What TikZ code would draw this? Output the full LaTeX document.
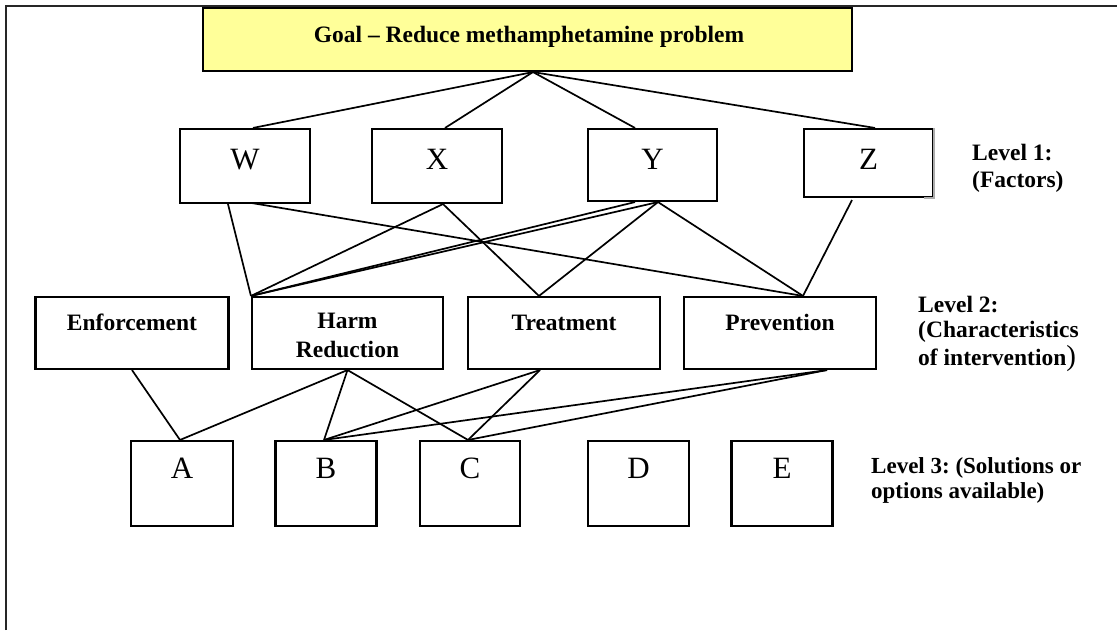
\documentclass[tikz,border=0pt]{standalone}
\usepackage{fontspec}
\setmainfont{Liberation Serif}
\usetikzlibrary{calc}
\definecolor{goalyellow}{HTML}{FFFF99}
\frenchspacing
\begin{document}
\begin{tikzpicture}[x=1pt,y=-1pt,
  box/.style={draw=black, line width=2.1pt, inner sep=0pt, rectangle},
  link/.style={draw=black, line width=1.7pt},
  big/.style={font=\fontsize{31}{31}\selectfont, inner sep=0pt, anchor=base},
  lab/.style={font=\fontsize{23.5}{27}\selectfont\bfseries, inner sep=0pt},
]
\useasboundingbox (0,0) rectangle (1117,630);
% frame
\draw[black!85, line width=2.2pt] (6,630) -- (6,6) -- (1117,6);

% goal
\node[box, fill=goalyellow, minimum width=649pt, minimum height=63pt] (G) at (527.5,39.5) {};
\node[lab, anchor=base] (Gt) at (529,42) {Goal – Reduce methamphetamine problem};

% level 1
\node[box, minimum width=130pt, minimum height=74pt] (W) at (245,166) {};
\node[box, minimum width=130pt, minimum height=74pt] (X) at (437,166) {};
\node[box, minimum width=129pt, minimum height=72pt] (Y) at (652.5,165) {};
\node[box, minimum width=129pt, minimum height=68pt] (Z) at (868.5,163) {};
\draw[gray!65, line width=2.1pt] (Z.north east) -- (Z.south east) -- ($(Z.south east)+(-10,0)$);
\node[big] (Wt) at (245,169) {W};
\node[big] (Xt) at (437,169) {X};
\node[big] (Yt) at (652.5,169) {Y};
\node[big] (Zt) at (868.5,169) {Z};
\node[lab, anchor=base west] (L1) at (972,160) {\begin{tabular}[t]{@{}l@{}}Level 1:\\(Factors)\end{tabular}};

% level 2
\node[box, minimum width=193pt, minimum height=72pt] (E) at (132,333) {};
\node[box, minimum width=191pt, minimum height=72pt] (H) at (347.5,333) {};
\node[box, minimum width=192pt, minimum height=72pt] (T) at (564,333) {};
\node[box, minimum width=192pt, minimum height=72pt] (P) at (780,333) {};
\node[lab, anchor=base] (Et) at (132,330) {Enforcement};
\node[lab, anchor=base, font=\fontsize{23.5}{29}\selectfont\bfseries] (Ht) at (347.5,328) {\begin{tabular}[t]{@{}c@{}}Harm\\Reduction\end{tabular}};
\node[lab, anchor=base] (Tt) at (564,330) {Treatment};
\node[lab, anchor=base] (Pt) at (780,330) {Prevention};
\node[lab, anchor=base west, font=\fontsize{23.5}{25.5}\selectfont\bfseries] (L2) at (918,312) {\begin{tabular}[t]{@{}l@{}}Level 2:\\(Characteristics\\of intervention{\mdseries\fontsize{29}{29}\selectfont)}\end{tabular}};

% level 3
\node[box, minimum width=102pt, minimum height=85pt] (A) at (182,483.5) {};
\node[box, minimum width=101pt, minimum height=85pt] (B) at (326,483.5) {};
\node[box, minimum width=100pt, minimum height=85pt] (C) at (470,483.5) {};
\node[box, minimum width=101pt, minimum height=85pt] (D) at (638.5,483.5) {};
\node[box, minimum width=101pt, minimum height=85pt] (Ee) at (782,483.5) {};
\node[big] (At) at (182,478) {A};
\node[big] (Bt) at (326,478) {B};
\node[big] (Ct) at (470,478) {C};
\node[big] (Dt) at (638.5,478) {D};
\node[big] (Eet) at (782,478) {E};
\node[lab, anchor=base west, font=\fontsize{23}{25}\selectfont\bfseries] (L3) at (871,473) {\begin{tabular}[t]{@{}l@{}}Level 3: (Solutions or\\options available)\end{tabular}};

% connection points
\coordinate (g) at ($(G.south)+(5.5,0)$);
\coordinate (wn) at ($(W.north)+(8,0)$);
\coordinate (xn) at ($(X.north)+(8,0)$);
\coordinate (yn) at ($(Y.north)+(-17.5,0)$);
\coordinate (zn) at ($(Z.north)+(6.5,0)$);
\coordinate (ws1) at ($(W.south)+(-17,0)$);
\coordinate (ws2) at ($(W.south)+(7,-1)$);
\coordinate (xs) at ($(X.south)+(6,0)$);
\coordinate (ys1) at ($(Y.south)+(-17.5,0)$);
\coordinate (ys2) at ($(Y.south)+(5.5,0)$);
\coordinate (zs) at ($(Z.south)+(-16.5,2)$);
\coordinate (hn) at (H.north west);
\coordinate (tn) at ($(T.north)+(-25,0)$);
\coordinate (pn) at ($(P.north)+(23,0)$);
\coordinate (hs) at (H.south);
\coordinate (ts) at ($(T.south)+(-24,0)$);
\coordinate (ps) at ($(P.south)+(47,0)$);
\coordinate (an) at ($(A.north)+(-2,0)$);
\coordinate (bn) at ($(B.north)+(-2,0)$);
\coordinate (cn) at ($(C.north)+(-2,0)$);

% goal to level 1
\draw[link] (g) -- (wn);
\draw[link] (g) -- (xn);
\draw[link] (g) -- (yn);
\draw[link] (g) -- (zn);

% level 1 to level 2
\draw[link] (ws1) -- (hn);
\draw[link] (ws2) -- (pn);
\draw[link] (xs) -- (hn);
\draw[link] (xs) -- (tn);
\draw[link] (ys1) -- (hn);
\draw[link] (ys2) -- (hn);
\draw[link] (ys2) -- (tn);
\draw[link] (ys2) -- (pn);
\draw[link] (zs) -- (pn);

% level 2 to level 3
\draw[link] (E.south) -- (an);
\draw[link] (hs) -- (an);
\draw[link] (hs) -- (bn);
\draw[link] (hs) -- (cn);
\draw[link] (ts) -- (bn);
\draw[link] (ts) -- (cn);
\draw[link] (ps) -- (bn);
\draw[link] (ps) -- (cn);
\end{tikzpicture}
\end{document}
